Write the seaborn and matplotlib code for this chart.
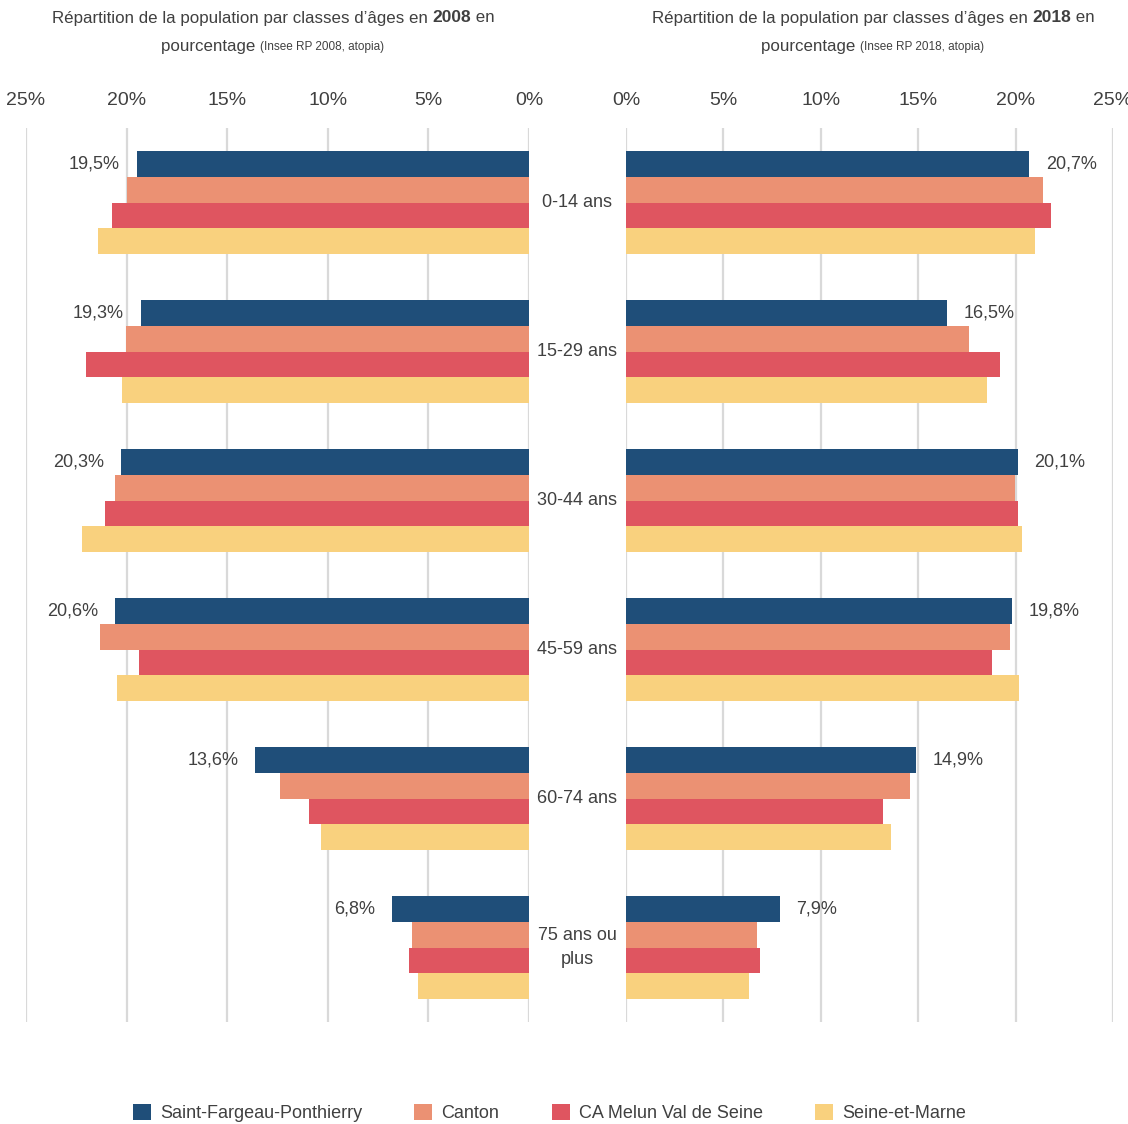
import matplotlib
matplotlib.use("Agg")
import matplotlib.pyplot as plt
from matplotlib.patches import Patch
import seaborn as sns
import pandas as pd

categories = ["0-14 ans", "15-29 ans", "30-44 ans", "45-59 ans", "60-74 ans", "75 ans ou\nplus"]
series = ["Saint-Fargeau-Ponthierry", "Canton", "CA Melun Val de Seine", "Seine-et-Marne"]
colors = ["#1F4E79", "#EB9173", "#DF5560", "#F9D17E"]

# 2008 values (%)
sfp_2008 = [19.5, 19.3, 20.3, 20.6, 13.6, 6.8]
canton_2008 = [20.0, 20.05, 20.6, 21.3, 12.4, 5.8]
ca_2008 = [20.75, 22.0, 21.05, 19.4, 10.95, 5.95]
sem_2008 = [21.4, 20.25, 22.2, 20.5, 10.35, 5.5]

# 2018 values (%)
sfp_2018 = [20.7, 16.5, 20.1, 19.8, 14.9, 7.9]
canton_2018 = [21.4, 17.6, 19.95, 19.7, 14.6, 6.75]
ca_2018 = [21.8, 19.2, 20.1, 18.8, 13.2, 6.9]
sem_2018 = [21.0, 18.55, 20.35, 20.15, 13.6, 6.3]

ticks = [0, 5, 10, 15, 20, 25]
tick_labels = ["0%", "5%", "10%", "15%", "20%", "25%"]

sns.set_theme(style="white")
plt.rcParams["font.family"] = ["Liberation Sans Narrow", "Liberation Sans", "DejaVu Sans"]
TXT = "#404040"


def long_df(vals):
    rows = []
    for s, v in zip(series, vals):
        for c, x in zip(categories, v):
            rows.append({"cat": c, "serie": s, "val": x})
    return pd.DataFrame(rows)


df08 = long_df([sfp_2008, canton_2008, ca_2008, sem_2008])
df18 = long_df([sfp_2018, canton_2018, ca_2018, sem_2018])

W, H = 1128, 1124
fig = plt.figure(figsize=(W / 100, H / 100), dpi=100)
top_px, bot_px = 128, 1022
bottom = 1 - bot_px / H
height = (bot_px - top_px) / H
axL = fig.add_axes([26 / W, bottom, (529 - 26) / W, height])
axR = fig.add_axes([626 / W, bottom, (1113 - 626) / W, height])

pal = dict(zip(series, colors))
for ax, df in ((axL, df08), (axR, df18)):
    sns.barplot(data=df, x="val", y="cat", hue="serie", hue_order=series, order=categories,
                palette=pal, orient="h", width=0.685, ax=ax, legend=False, saturation=1,
                linewidth=0, zorder=3)
    ax.set_xlim(0, 25)
    ax.set_ylim(5.5, -0.5)
    ax.set_xticks(ticks)
    ax.set_xticklabels(tick_labels)
    ax.xaxis.tick_top()
    ax.tick_params(axis="x", length=0, pad=14, labelsize=14, labelcolor=TXT)
    ax.set_yticks([])
    ax.set_xlabel("")
    ax.set_ylabel("")
    ax.grid(axis="x", color="#D9D9D9", lw=1.6, zorder=0)
    for sp in ax.spines.values():
        sp.set_visible(False)

axL.invert_xaxis()


def fmt(v):
    return f"{v:.1f}%".replace(".", ",")


for ax, vals, sign, ha in ((axL, sfp_2008, -1, "right"), (axR, sfp_2018, 1, "left")):
    cont = ax.containers[0]
    for bar, v in zip(cont, vals):
        yc = bar.get_y() + bar.get_height() / 2
        ax.annotate(fmt(v), xy=(bar.get_width(), yc), xytext=(sign * 12, 0),
                    textcoords="offset points", ha=ha, va="center",
                    fontsize=13, color=TXT)

for i, c in enumerate(categories):
    axL.annotate(c, xy=(577 / W, i), xycoords=("figure fraction", "data"),
                 ha="center", va="center", fontsize=13, color=TXT,
                 linespacing=1.5, annotation_clip=False)

# Titles with mixed styles
renderer = fig.canvas.get_renderer()


def draw_line(cx, cy, pieces):
    texts = []
    for s, kw in pieces:
        t = fig.text(0, cy, s, va="center", ha="left", color=TXT, **kw)
        texts.append(t)
    widths = [t.get_window_extent(renderer).width for t in texts]
    total = sum(widths)
    x = cx * W - total / 2
    for t, w in zip(texts, widths):
        t.set_x(x / W)
        x += w


normal = dict(fontsize=12.2)
bold = dict(fontsize=12.5, fontweight="bold", family=["Liberation Sans", "DejaVu Sans"])
small = dict(fontsize=8.5)

for cx, yr in ((273 / W, "2008"), (873 / W, "2018")):
    draw_line(cx, 1 - 18 / H, [("Répartition de la population par classes d’âges en ", normal),
                               (yr, bold), (" en", normal)])
    draw_line(cx, 1 - 47 / H, [("pourcentage ", normal), (f"(Insee RP {yr}, atopia)", small)])

handles = [Patch(facecolor=c, edgecolor="none", label=s) for s, c in zip(series, colors)]
fig.legend(handles=handles, loc="center", bbox_to_anchor=(0.487, 1 - 1113 / H), ncol=4,
           frameon=False, fontsize=13, handlelength=1.0, handleheight=1.0,
           columnspacing=2.9, handletextpad=0.5, labelcolor=TXT)

fig.savefig("out.png", dpi=100)
